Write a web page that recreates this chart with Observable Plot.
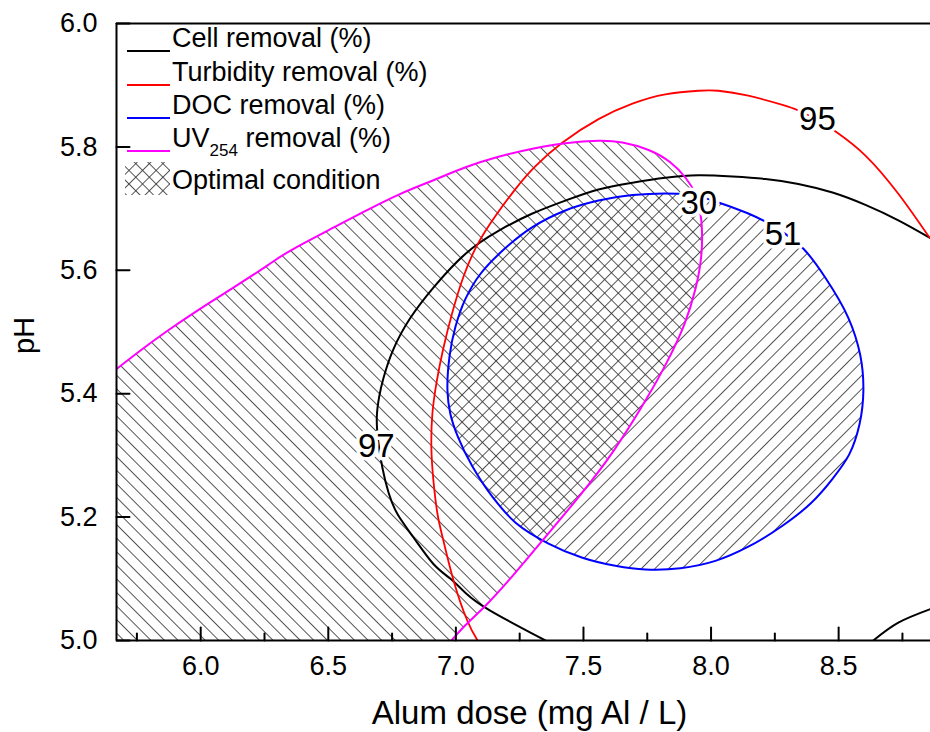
<!DOCTYPE html>
<html><head><meta charset="utf-8">
<script src="https://cdn.jsdelivr.net/npm/d3@7"></script>
<script src="https://cdn.jsdelivr.net/npm/@observablehq/plot@0.6"></script>
<style>
html,body{margin:0;padding:0;background:#fff;}
#chart{width:930px;height:732px;}
</style></head><body><div id="chart"></div>
<script>
const xDomain = [5.67, 8.86];
const yDomain = [5.0, 6.0];
const xMajorTicks = [6.0, 6.5, 7.0, 7.5, 8.0, 8.5];
const xMinorTicks = [5.75, 6.25, 6.75, 7.25, 7.75, 8.25, 8.75];
const yMajorTicks = [5.0, 5.2, 5.4, 5.6, 5.8, 6.0];
const xTitle = "Alum dose (mg Al / L)";
const yTitle = "pH";

// Cell removal 97 % contour
const cellCurve = [[7.351,5.000],[7.136,5.048],[7.038,5.077],[6.979,5.100],[6.912,5.124],[6.834,5.167],[6.771,5.205],[6.736,5.240],[6.712,5.280],[6.696,5.322],[6.690,5.361],[6.699,5.394],[6.716,5.425],[6.755,5.472],[6.822,5.523],[6.912,5.572],[7.038,5.627],[7.167,5.664],[7.300,5.692],[7.429,5.713],[7.559,5.731],[7.692,5.742],[7.821,5.750],[7.951,5.754],[8.084,5.752],[8.213,5.748],[8.342,5.740],[8.476,5.726],[8.605,5.706],[8.734,5.681],[8.856,5.653]];
const cellCurve2 = [[8.636,5.000],[8.734,5.029],[8.860,5.051]];
// Turbidity removal 95 % contour
const turbidityCurve = [[7.085,5.000],[7.045,5.032],[6.991,5.097],[6.951,5.162],[6.928,5.205],[6.912,5.259],[6.904,5.312],[6.908,5.368],[6.925,5.420],[6.950,5.472],[6.985,5.530],[7.030,5.590],[7.085,5.642],[7.155,5.688],[7.234,5.732],[7.310,5.768],[7.418,5.807],[7.559,5.845],[7.692,5.870],[7.821,5.885],[7.951,5.891],[8.029,5.891],[8.146,5.883],[8.280,5.868],[8.342,5.859],[8.420,5.843],[8.495,5.823],[8.605,5.786],[8.734,5.724],[8.856,5.653]];
// DOC removal 51 % contour (closed)
const docCurve = [[6.967,5.405],[6.975,5.460],[6.998,5.508],[7.038,5.554],[7.096,5.594],[7.194,5.636],[7.300,5.670],[7.429,5.697],[7.559,5.713],[7.692,5.722],[7.872,5.724],[7.958,5.719],[8.029,5.710],[8.146,5.692],[8.221,5.677],[8.291,5.659],[8.362,5.635],[8.448,5.588],[8.538,5.523],[8.585,5.462],[8.597,5.405],[8.582,5.351],[8.542,5.302],[8.476,5.262],[8.390,5.222],[8.280,5.186],[8.146,5.152],[8.017,5.129],[7.880,5.117],[7.743,5.115],[7.625,5.121],[7.496,5.134],[7.363,5.157],[7.234,5.191],[7.145,5.232],[7.065,5.282],[7.008,5.330],[6.978,5.368]];
// UV254 removal 30 % contour
const uvCurve = [[5.670,5.440],[5.764,5.470],[5.870,5.502],[5.999,5.538],[6.128,5.572],[6.262,5.608],[6.352,5.632],[6.520,5.669],[6.654,5.698],[6.783,5.724],[6.912,5.746],[7.038,5.767],[7.167,5.784],[7.300,5.797],[7.429,5.806],[7.559,5.810],[7.653,5.807],[7.755,5.795],[7.840,5.775],[7.900,5.750],[7.940,5.722],[7.962,5.680],[7.962,5.625],[7.939,5.570],[7.895,5.512],[7.828,5.452],[7.743,5.389],[7.614,5.305],[7.476,5.230],[7.339,5.162],[7.206,5.097],[7.108,5.053],[7.038,5.025],[6.983,5.000]];

const contourLabels = ["97", "95", "51", "30"];
const labelX = [6.688, 8.417, 8.282, 7.952];
const labelY = [5.314, 5.845, 5.658, 5.708];

const legendNames = ["Cell removal (%)", "Turbidity removal (%)", "DOC removal (%)", "UV254 removal (%)", "Optimal condition"];
const legendColors = ["#000000", "#ff0000", "#0000ff", "#ff00ff"];

const FONT = "Liberation Sans, Arial, Helvetica, sans-serif";
const tickShape = {draw(context, l) { context.moveTo(0, 0); context.lineTo(0, -l); }};
const pt = {x: d => d[0], y: d => d[1]};

const plot = Plot.plot({
  width: 930, height: 732,
  marginLeft: 116, marginRight: 0, marginTop: 23, marginBottom: 92,
  x: {domain: xDomain},
  y: {domain: yDomain},
  style: {fontFamily: FONT, fontSize: "26px", background: "white", color: "black"},
  marks: [
    // hatched regions
    Plot.line(docCurve, {...pt, curve: "catmull-rom-closed", fill: "url(#hatchFwd)", stroke: "none", clip: true}),
    Plot.line([...uvCurve, [xDomain[0], yDomain[0]]], {...pt, curve: "linear-closed", fill: "url(#hatchBack)", stroke: "none", clip: true}),
    // contour lines
    Plot.line(cellCurve, {...pt, curve: "natural", stroke: legendColors[0], strokeWidth: 2, clip: true}),
    Plot.line(cellCurve2, {...pt, curve: "natural", stroke: legendColors[0], strokeWidth: 2, clip: true}),
    Plot.line(turbidityCurve, {...pt, curve: "natural", stroke: legendColors[1], strokeWidth: 1.8, clip: true}),
    Plot.line(docCurve, {...pt, curve: "catmull-rom-closed", stroke: legendColors[2], strokeWidth: 2, clip: true}),
    Plot.line(uvCurve, {...pt, curve: "natural", stroke: legendColors[3], strokeWidth: 2, clip: true}),
    // contour labels
    Plot.text(contourLabels, {x: (d, i) => labelX[i], y: (d, i) => labelY[i], text: d => d, fontSize: 33, fill: "black", stroke: "white", strokeWidth: 7, lineAnchor: "middle"}),
    // frame (left, bottom, top)
    Plot.ruleY([yDomain[0], yDomain[1]], {stroke: "black", strokeWidth: 2}),
    Plot.ruleX([xDomain[0]], {stroke: "black", strokeWidth: 2}),
    // inward ticks
    Plot.vector(xMajorTicks, {x: d => d, y: yDomain[0], rotate: 0, length: 13, anchor: "start", shape: tickShape, stroke: "black", strokeWidth: 2}),
    Plot.vector(xMinorTicks, {x: d => d, y: yDomain[0], rotate: 0, length: 7, anchor: "start", shape: tickShape, stroke: "black", strokeWidth: 2}),
    Plot.vector(yMajorTicks, {x: xDomain[0], y: d => d, rotate: 90, length: 13, anchor: "start", shape: tickShape, stroke: "black", strokeWidth: 2}),
    // tick labels
    Plot.axisX({ticks: xMajorTicks, tickFormat: d3.format(".1f"), tickSize: 0, tickPadding: 15, label: null, fontSize: 27}),
    Plot.axisY({ticks: yMajorTicks, tickFormat: d3.format(".1f"), tickSize: 0, tickPadding: 19, label: null, fontSize: 27}),
    // axis titles
    Plot.text([xTitle], {frameAnchor: "bottom", text: d => d, dx: 6, dy: 73, fontSize: 33, lineAnchor: "middle"}),
    Plot.text([yTitle], {frameAnchor: "left", text: d => d, rotate: -90, dx: -92, dy: 22, fontSize: 29, lineAnchor: "middle"})
  ]
});

document.getElementById("chart").appendChild(plot);

// hatch patterns
const svg = d3.select(plot);
const defs = svg.insert("defs", ":first-child");
function hatch(id, angle) {
  const p = defs.append("pattern").attr("id", id)
    .attr("patternUnits", "userSpaceOnUse")
    .attr("width", 10).attr("height", 9.6)
    .attr("patternTransform", `rotate(${angle})`);
  p.append("line").attr("x1", -1).attr("x2", 11).attr("y1", 0.5).attr("y2", 0.5)
    .attr("stroke", "#333").attr("stroke-width", 0.85);
}
hatch("hatchBack", 45);
hatch("hatchFwd", -45);

// legend inside the plot, top-left
const lg = svg.append("g").attr("font-family", FONT).attr("font-size", 27)
  .attr("fill", "black").attr("text-anchor", "start");
const baselines = [46.5, 80.5, 113.5, 146.5, 188.5];
legendNames.forEach((name, i) => {
  if (i < legendColors.length) {
    lg.append("line").attr("x1", 127).attr("x2", 170)
      .attr("y1", baselines[i] + 4.5).attr("y2", baselines[i] + 4.5)
      .attr("stroke", legendColors[i]).attr("stroke-width", 2);
  } else {
    lg.append("rect").attr("x", 125).attr("y", 162).attr("width", 45).attr("height", 33).attr("fill", "url(#hatchBack)");
    lg.append("rect").attr("x", 125).attr("y", 162).attr("width", 45).attr("height", 33).attr("fill", "url(#hatchFwd)");
  }
  const t = lg.append("text").attr("x", 172).attr("y", baselines[i]).attr("text-anchor", "start");
  const m = name.match(/^UV(\d+)(.*)$/);
  if (m) {
    t.append("tspan").text("UV");
    t.append("tspan").attr("font-size", 17).attr("dy", 9.5).text(m[1]);
    t.append("tspan").attr("dy", -9.5).text(m[2]);
  } else {
    t.text(name);
  }
});
</script>
</body></html>
